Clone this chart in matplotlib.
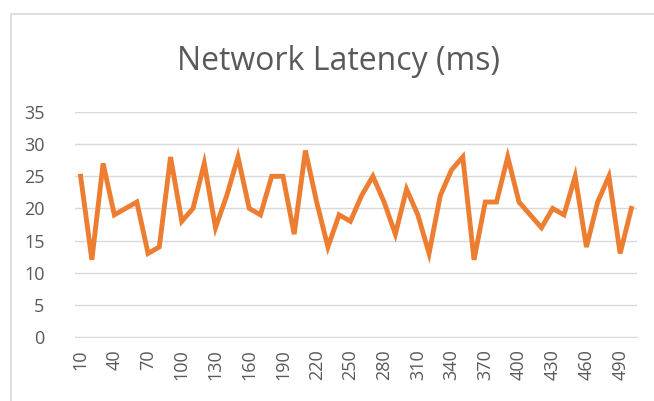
import matplotlib
matplotlib.use("Agg")
import matplotlib.pyplot as plt
from matplotlib.patches import Rectangle

# x categories: 10, 20, ..., 500
categories = list(range(10, 510, 10))
latency = [25, 12, 27, 19, 20, 21, 13, 14, 28, 18,
           20, 27, 17, 22, 28, 20, 19, 25, 25, 16,
           29, 21, 14, 19, 18, 22, 25, 21, 16, 23,
           19, 13, 22, 26, 28, 12, 21, 21, 28, 21,
           19, 17, 20, 19, 25, 14, 21, 25, 13, 20]
y_ticks = [0, 5, 10, 15, 20, 25, 30, 35]

plt.rcParams['font.family'] = ['Open Sans', 'DejaVu Sans']

fig = plt.figure(figsize=(6.54, 4.01), dpi=100)
fig.patch.set_facecolor("white")

# chart border like excel
fig.patches.append(Rectangle((11 / 654, -0.1), 1.2, (401 - 14) / 401 + 0.1,
                             transform=fig.transFigure, fill=False,
                             edgecolor="#d9d9d9", lw=1.2))

ax = fig.add_axes([75 / 654, (401 - 337) / 401, (637 - 75) / 654, (337 - 112) / 401])
x = list(range(len(categories)))
ax.plot(x, latency, color="#ED7D31", lw=3.5, solid_joinstyle="miter")

ax.set_xlim(-0.5, len(categories) - 0.5)
ax.set_ylim(0, 35)
ax.set_yticks(y_ticks)
ax.set_xticks(x[::3])
ax.set_xticklabels([str(c) for c in categories[::3]], rotation=90)
ax.tick_params(length=0, labelsize=13, labelcolor="#595959", pad=9)
ax.tick_params(axis="y", pad=22)
ax.grid(axis="y", color="#d9d9d9", lw=1)
ax.set_axisbelow(True)
for s in ["top", "right", "left"]:
    ax.spines[s].set_visible(False)
ax.spines["bottom"].set_color("#d9d9d9")

fig.text(338 / 654, 1 - 61 / 401, "Network Latency (ms)", ha="center", va="center",
         fontsize=23, color="#595959")

fig.savefig("out.png", dpi=100)
